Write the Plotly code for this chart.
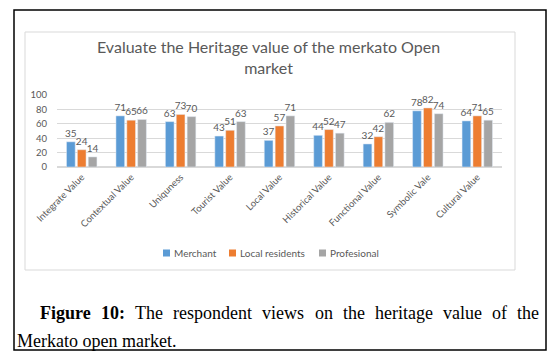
import plotly.graph_objects as go

categories = ["Integrate Value", "Contextual Value", "Uniquness", "Tourist Value",
              "Local Value", "Historical Value", "Functional Value", "Symbolic Vale",
              "Cultural Value"]
merchant = [35, 71, 63, 43, 37, 44, 32, 78, 64]
local_residents = [24, 65, 73, 51, 57, 52, 42, 82, 71]
profesional = [14, 66, 70, 63, 71, 47, 62, 74, 65]
y_ticks = [0, 20, 40, 60, 80, 100]
series_names = ["Merchant", "Local residents", "Profesional"]

title_text = "Evaluate the Heritage value of the merkato Open<br>market"
caption_line1 = [("Figure", True), ("10:", True), ("The", False), ("respondent", False),
                 ("views", False), ("on", False), ("the", False), ("heritage", False),
                 ("value", False), ("of", False), ("the", False)]
caption_line2 = "Merkato open market."

W, H = 556, 359
L, R, T, B = 57, 502, 95, 167


def px(x):
    return (x - L) / (R - L)


def py(y):
    return (B - y) / (B - T)


GRAY_TXT = "#595959"
FONT = "Lato"
COLORS = ["#5B9BD5", "#ED7D31", "#A5A5A5"]

fig = go.Figure()
for name, vals, col in zip(series_names, [merchant, local_residents, profesional], COLORS):
    fig.add_trace(go.Bar(
        name=name, x=categories, y=vals, marker_color=col,
        text=[str(v) for v in vals], textposition="outside",
        textfont=dict(family=FONT, size=10, color=GRAY_TXT),
        constraintext="none", cliponaxis=False,
    ))

fig.update_layout(
    width=W, height=H,
    margin=dict(l=L, r=W - R, t=T, b=H - B, autoexpand=False),
    paper_bgcolor="white", plot_bgcolor="white",
    barmode="group", bargap=0.34, bargroupgap=0.2,
    showlegend=False,
    font=dict(family=FONT, color=GRAY_TXT),
)
fig.update_xaxes(tickangle=-45, tickfont=dict(family=FONT, size=9.5, color=GRAY_TXT),
                 showgrid=False, showline=True, linecolor="#D9D9D9", automargin=False,
                 ticks="")
fig.update_yaxes(range=[0, 100], tickvals=y_ticks, showgrid=True, gridcolor="#D9D9D9",
                 zeroline=True, zerolinecolor="#D9D9D9", automargin=False,
                 tickfont=dict(family=FONT, size=9.5, color=GRAY_TXT), ticks="",
                 ticklabelstandoff=9)

shapes = [
    dict(type="rect", xref="paper", yref="paper", x0=px(25), x1=px(515), y0=py(32), y1=py(270),
         line=dict(color="#D9D9D9", width=1), layer="below"),
    dict(type="rect", xref="paper", yref="paper", x0=px(14), x1=px(546), y0=py(10), y1=py(350),
         line=dict(color="black", width=1.5)),
]
annotations = [dict(text=title_text, xref="paper", yref="paper", x=px(268), y=py(57),
                    xanchor="center", yanchor="middle", showarrow=False,
                    font=dict(family=FONT, size=16, color=GRAY_TXT))]

# legend (squares + labels)
legend_sq_x = [163, 229, 319]
for name, col, x in zip(series_names, COLORS, legend_sq_x):
    shapes.append(dict(type="rect", xref="paper", yref="paper", x0=px(x), x1=px(x + 7),
                       y0=py(256.5), y1=py(249.5), line=dict(width=0), fillcolor=col))
    annotations.append(dict(text=name, xref="paper", yref="paper", x=px(x + 9), y=py(253),
                            xanchor="left", yanchor="middle", showarrow=False,
                            font=dict(family=FONT, size=10, color=GRAY_TXT)))

# caption, justified line 1
em = {"Figure": 2.833, "10:": 1.333, "The": 1.555, "respondent": 4.388, "views": 2.333,
      "on": 1.0, "the": 1.222, "heritage": 3.221, "value": 2.166, "of": 0.833}
cap_size = 18
x_start, x_end = 38, 537
total = sum(em[w] * cap_size for w, _ in caption_line1)
gap = (x_end - x_start - total) / (len(caption_line1) - 1)
x = x_start
for w, bold in caption_line1:
    annotations.append(dict(text=f"<b>{w}</b>" if bold else w, xref="paper", yref="paper",
                            x=px(x), y=py(313), xanchor="left", yanchor="middle",
                            showarrow=False,
                            font=dict(family="Liberation Serif", size=cap_size, color="black")))
    x += em[w] * cap_size + gap
annotations.append(dict(text=caption_line2, xref="paper", yref="paper", x=px(15), y=py(341),
                        xanchor="left", yanchor="middle", showarrow=False,
                        font=dict(family="Liberation Serif", size=cap_size, color="black")))
fig.update_layout(shapes=shapes, annotations=annotations)

fig.write_html("out.html", config={"displayModeBar": False},
               post_script="document.body.style.margin='0px';")
